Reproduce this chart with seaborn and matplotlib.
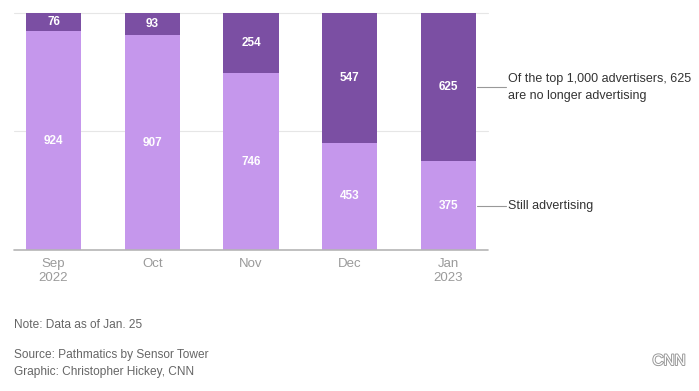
import matplotlib.pyplot as plt
import matplotlib.patheffects as pe
import pandas as pd
import seaborn as sns

months = ['Sep\n2022', 'Oct', 'Nov', 'Dec', 'Jan\n2023']
still_advertising = [924, 907, 746, 453, 375]
stopped_advertising = [76, 93, 254, 547, 625]

light_purple = '#c597ec'
dark_purple = '#7b4fa3'

df = pd.DataFrame({'month': months, 'still': still_advertising, 'stopped': stopped_advertising})
df['total'] = df['still'] + df['stopped']

sns.set_style('white')
plt.rcParams['font.family'] = ['Liberation Sans', 'DejaVu Sans']

fig = plt.figure(figsize=(6.99, 3.91), dpi=100)
ax = fig.add_axes([0.02, 0.3606, 0.678, 0.6062])

sns.barplot(data=df, x='month', y='total', color=dark_purple, width=0.56,
            saturation=1, linewidth=0, ax=ax, zorder=3)
sns.barplot(data=df, x='month', y='still', color=light_purple, width=0.56,
            saturation=1, linewidth=0, ax=ax, zorder=3)

ax.set_xlim(-0.4, 4.4)
ax.set_ylim(0, 1000)
ax.set_yticks([])
ax.set_xlabel('')
ax.set_ylabel('')
for y in [500, 1000]:
    ax.axhline(y, color='#e6e6e6', linewidth=0.8, zorder=1, clip_on=False)
ax.axhline(0, color='#b5b5b5', linewidth=1.2, zorder=4, clip_on=False)
sns.despine(ax=ax, left=True, bottom=True, top=True, right=True)
ax.tick_params(axis='x', length=0, pad=6, labelsize=9.5, labelcolor='#9a9a9a')

for i, (s, t) in enumerate(zip(still_advertising, stopped_advertising)):
    ax.text(i, s / 2, str(s), ha='center', va='center', color='white',
            fontsize=8.5, fontweight='bold', zorder=5)
    ax.text(i, s + t / 2, str(t), ha='center', va='center', color='white',
            fontsize=8.5, fontweight='bold', zorder=5)

# annotations for the last bar
last = len(months) - 1
ann = [
    (still_advertising[last] + stopped_advertising[last] / 2,
     'Of the top 1,000 advertisers, 625\nare no longer advertising'),
    (still_advertising[last] / 2, 'Still advertising'),
]
for y, txt in ann:
    ax.plot([last + 0.29, last + 0.58], [y, y], color='#999999', linewidth=0.8,
            clip_on=False, zorder=2)
    ax.text(last + 0.6, y, txt, ha='left', va='center', fontsize=9,
            color='#333333', linespacing=1.55, clip_on=False)

foot = dict(fontsize=8.6, color='#666666', va='center')
fig.text(0.02, 1 - 325 / 391, 'Note: Data as of Jan. 25', **foot)
fig.text(0.02, 1 - 355 / 391, 'Source: Pathmatics by Sensor Tower', **foot)
fig.text(0.02, 1 - 372 / 391, 'Graphic: Christopher Hickey, CNN', **foot)
fig.text(669 / 699, 1 - 361 / 391, 'CNN', fontsize=11, color='white',
         ha='center', va='center',
         path_effects=[pe.Stroke(linewidth=1.4, foreground='#9a9a9a'), pe.Normal()])

fig.savefig('out.png', dpi=100)
plt.close(fig)
